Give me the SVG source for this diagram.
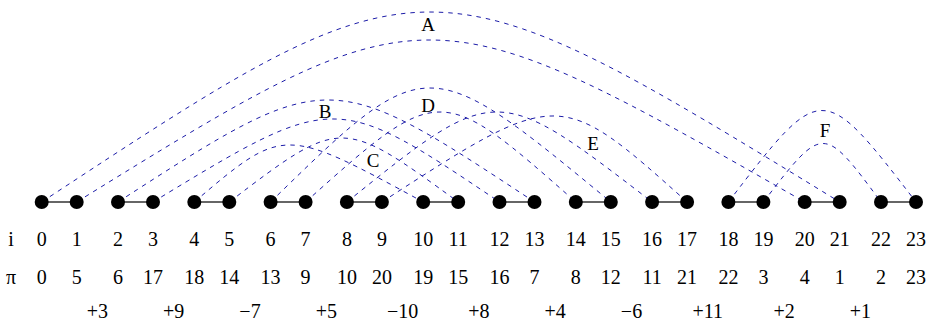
<svg xmlns="http://www.w3.org/2000/svg" width="929" height="321" viewBox="0 0 929 321">
<style>
.arc{fill:none;stroke:#1c1ca8;stroke-width:1;stroke-dasharray:4.5 5}
.edge{stroke:#666;stroke-width:2}
.nd{fill:#000}
</style>
<rect width="929" height="321" fill="#fff"/>
<g id="connectors">
<line class="edge" x1="41.7" y1="202" x2="76.7" y2="202"/>
<line class="edge" x1="118" y1="202" x2="153" y2="202"/>
<line class="edge" x1="194.3" y1="202" x2="229.3" y2="202"/>
<line class="edge" x1="270.6" y1="202" x2="305.6" y2="202"/>
<line class="edge" x1="346.9" y1="202" x2="381.9" y2="202"/>
<line class="edge" x1="423.2" y1="202" x2="458.2" y2="202"/>
<line class="edge" x1="499.5" y1="202" x2="534.5" y2="202"/>
<line class="edge" x1="575.8" y1="202" x2="610.8" y2="202"/>
<line class="edge" x1="652.1" y1="202" x2="687.1" y2="202"/>
<line class="edge" x1="728.4" y1="202" x2="763.4" y2="202"/>
<line class="edge" x1="804.7" y1="202" x2="839.7" y2="202"/>
<line class="edge" x1="881" y1="202" x2="916" y2="202"/>
<path class="arc" d="M41.7,202 C426.4,-51.3 426.4,-51.3 839.7,202"/>
<path class="arc" d="M76.7,202 C426,-14 426,-14 804.7,202"/>
<path class="arc" d="M118,202 C328.4,66 328.4,66 534.5,202"/>
<path class="arc" d="M153,202 C335,91.3 335,91.3 499.5,202"/>
<path class="arc" d="M194.3,202 C283.6,126 283.6,126 423.2,202"/>
<path class="arc" d="M229.3,202 C341.3,116.7 341.3,116.7 458.2,202"/>
<path class="arc" d="M270.6,202 C426.4,50 426.4,50 610.8,202"/>
<path class="arc" d="M305.6,202 C439.7,82 439.7,82 575.8,202"/>
<path class="arc" d="M346.9,202 C496,82 496,82 652.1,202"/>
<path class="arc" d="M381.9,202 C559,87.3 559,87.3 687.1,202"/>
<path class="arc" d="M728.4,202 C822,80 822,80 916,202"/>
<path class="arc" d="M763.4,202 C823.2,124 823.2,124 881,202"/>
<g font-family="Liberation Serif, Times New Roman, serif" font-size="19" text-anchor="middle" fill="#000">
<text x="428" y="31">A</text>
<text x="325" y="118">B</text>
<text x="373" y="167">C</text>
<text x="428" y="112">D</text>
<text x="593" y="150">E</text>
<text x="825" y="137">F</text>
</g>
</g>
<g id="n0"><circle class="nd" cx="41.7" cy="202" r="7"/></g>
<g id="n1"><circle class="nd" cx="76.7" cy="202" r="7"/></g>
<g id="n2"><circle class="nd" cx="118" cy="202" r="7"/></g>
<g id="n3"><circle class="nd" cx="153" cy="202" r="7"/></g>
<g id="n4"><circle class="nd" cx="194.3" cy="202" r="7"/></g>
<g id="n5"><circle class="nd" cx="229.3" cy="202" r="7"/></g>
<g id="n6"><circle class="nd" cx="270.6" cy="202" r="7"/></g>
<g id="n7"><circle class="nd" cx="305.6" cy="202" r="7"/></g>
<g id="n8"><circle class="nd" cx="346.9" cy="202" r="7"/></g>
<g id="n9"><circle class="nd" cx="381.9" cy="202" r="7"/></g>
<g id="n10"><circle class="nd" cx="423.2" cy="202" r="7"/></g>
<g id="n11"><circle class="nd" cx="458.2" cy="202" r="7"/></g>
<g id="n12"><circle class="nd" cx="499.5" cy="202" r="7"/></g>
<g id="n13"><circle class="nd" cx="534.5" cy="202" r="7"/></g>
<g id="n14"><circle class="nd" cx="575.8" cy="202" r="7"/></g>
<g id="n15"><circle class="nd" cx="610.8" cy="202" r="7"/></g>
<g id="n16"><circle class="nd" cx="652.1" cy="202" r="7"/></g>
<g id="n17"><circle class="nd" cx="687.1" cy="202" r="7"/></g>
<g id="n18"><circle class="nd" cx="728.4" cy="202" r="7"/></g>
<g id="n19"><circle class="nd" cx="763.4" cy="202" r="7"/></g>
<g id="n20"><circle class="nd" cx="804.7" cy="202" r="7"/></g>
<g id="n21"><circle class="nd" cx="839.7" cy="202" r="7"/></g>
<g id="n22"><circle class="nd" cx="881" cy="202" r="7"/></g>
<g id="n23"><circle class="nd" cx="916" cy="202" r="7"/></g>
<g id="labels" font-family="Liberation Serif, Times New Roman, serif" font-size="20" text-anchor="middle" fill="#000">
<g id="row-i">
<text x="11" y="246">i</text>
<text x="41.7" y="246">0</text><text x="76.7" y="246">1</text>
<text x="118" y="246">2</text><text x="153" y="246">3</text>
<text x="194.3" y="246">4</text><text x="229.3" y="246">5</text>
<text x="270.6" y="246">6</text><text x="305.6" y="246">7</text>
<text x="346.9" y="246">8</text><text x="381.9" y="246">9</text>
<text x="423.2" y="246">10</text><text x="458.2" y="246">11</text>
<text x="499.5" y="246">12</text><text x="534.5" y="246">13</text>
<text x="575.8" y="246">14</text><text x="610.8" y="246">15</text>
<text x="652.1" y="246">16</text><text x="687.1" y="246">17</text>
<text x="728.4" y="246">18</text><text x="763.4" y="246">19</text>
<text x="804.7" y="246">20</text><text x="839.7" y="246">21</text>
<text x="881" y="246">22</text><text x="916" y="246">23</text>
</g>
<g id="row-pi">
<text x="11" y="283.5">π</text>
<text x="41.7" y="283.5">0</text><text x="76.7" y="283.5">5</text>
<text x="118" y="283.5">6</text><text x="153" y="283.5">17</text>
<text x="194.3" y="283.5">18</text><text x="229.3" y="283.5">14</text>
<text x="270.6" y="283.5">13</text><text x="305.6" y="283.5">9</text>
<text x="346.9" y="283.5">10</text><text x="381.9" y="283.5">20</text>
<text x="423.2" y="283.5">19</text><text x="458.2" y="283.5">15</text>
<text x="499.5" y="283.5">16</text><text x="534.5" y="283.5">7</text>
<text x="575.8" y="283.5">8</text><text x="610.8" y="283.5">12</text>
<text x="652.1" y="283.5">11</text><text x="687.1" y="283.5">21</text>
<text x="728.4" y="283.5">22</text><text x="763.4" y="283.5">3</text>
<text x="804.7" y="283.5">4</text><text x="839.7" y="283.5">1</text>
<text x="881" y="283.5">2</text><text x="916" y="283.5">23</text>
</g>
<g id="row-delta">
<text x="97.4" y="317.5">+3</text>
<text x="173.7" y="317.5">+9</text>
<text x="250" y="317.5">−7</text>
<text x="326.3" y="317.5">+5</text>
<text x="402.6" y="317.5">−10</text>
<text x="478.9" y="317.5">+8</text>
<text x="555.2" y="317.5">+4</text>
<text x="631.5" y="317.5">−6</text>
<text x="707.8" y="317.5">+11</text>
<text x="784.1" y="317.5">+2</text>
<text x="860.4" y="317.5">+1</text>
</g>
</g>
</svg>
